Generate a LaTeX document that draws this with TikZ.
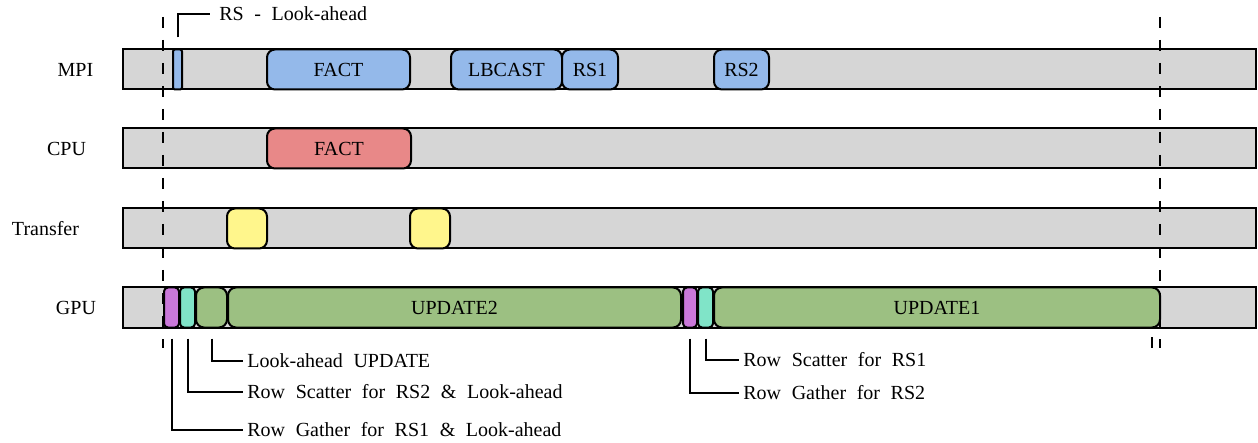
\documentclass[tikz,border=0pt]{standalone}
\usepackage{fontspec}
\setmainfont{Liberation Serif}
\usetikzlibrary{fit}
\definecolor{barg}{RGB}{214,214,214}
\definecolor{cblue}{RGB}{148,185,234}
\definecolor{cred}{RGB}{232,136,136}
\definecolor{cyel}{RGB}{255,246,140}
\definecolor{cgreen}{RGB}{156,192,130}
\definecolor{cpurp}{RGB}{202,120,218}
\definecolor{cteal}{RGB}{128,228,200}
\newcommand{\widesp}{\spaceskip=5.3pt\relax}
\begin{document}
\begin{tikzpicture}[x=0.5pt,y=-0.5pt,
  bar/.style={draw=black, line width=1pt, fill=barg, inner sep=0pt},
  seg/.style={draw=black, line width=1pt, rounded corners=4pt, inner sep=0pt},
  thin seg/.style={seg, rounded corners=2pt},
  lab/.style={inner sep=0pt, font=\fontsize{10}{12}\selectfont},
  txt/.style={label={[lab]center:#1}},
  ann/.style={inner sep=0pt, anchor=west, font=\fontsize{10}{12}\selectfont},
  lead/.style={line width=1pt},
  guide/.style={line width=0.9pt, dash pattern=on 5.5pt off 6pt}]
\useasboundingbox (0,0) rectangle (1258,443);

% bars
\node[bar, fit={(123,49.5) (1256,89.5)}] (mpi) {};
\node[bar, fit={(123,128.5) (1256,168.5)}] (cpu) {};
\node[bar, fit={(123,208.5) (1256,248.5)}] (tr) {};
\node[bar, fit={(123,287.5) (1256,327.5)}] (gpu) {};

% row labels
\node[lab] (lmpi) at (75.5,69.5) {MPI};
\node[lab] (lcpu) at (66.5,148.5) {CPU};
\node[lab] (ltr) at (45.5,228.5) {Transfer};
\node[lab] (lgpu) at (76,307.5) {GPU};

% guides
\coordinate (d1t) at (163,17); \coordinate (d1b) at (163,348);
\coordinate (d2t) at (1160,17); \coordinate (d2b) at (1160,348);
\draw[guide] (d1t) -- (d1b);
\draw[guide] (d2t) -- (d2b);
\coordinate (e1) at (1152,337); \coordinate (e2) at (1152,348);
\draw[lead] (e1) -- (e2);

% MPI
\node[seg, rounded corners=1pt, fill=cblue, fit={(173,49.5) (182,89.5)}] (rsla) {};
\node[seg, fill=cblue, fit={(267,49.5) (410,89.5)}, txt=FACT] (fact1) {};
\node[seg, fill=cblue, fit={(451,49.5) (562,89.5)}, txt=LBCAST] (lbcast) {};
\node[seg, fill=cblue, fit={(562,49.5) (618,89.5)}, txt=RS1] (rs1) {};
\node[seg, fill=cblue, fit={(714,49.5) (769,89.5)}, txt=RS2] (rs2) {};

% CPU
\node[seg, fill=cred, fit={(267,128.5) (411,168.5)}, txt=FACT] (fact2) {};

% Transfer
\node[seg, fill=cyel, fit={(227,208.5) (267,248.5)}] (t1) {};
\node[seg, fill=cyel, fit={(410,208.5) (450,248.5)}] (t2) {};

% GPU
\node[thin seg, fill=cpurp, fit={(164,287.5) (179,327.5)}] (g1) {};
\node[thin seg, fill=cteal, fit={(180,287.5) (195,327.5)}] (s1) {};
\node[seg, fill=cgreen, fit={(196,287.5) (227,327.5)}] (la) {};
\node[seg, fill=cgreen, fit={(228,287.5) (681,327.5)}, txt=UPDATE2] (up2) {};
\node[thin seg, fill=cpurp, fit={(683,287.5) (697,327.5)}] (g2) {};
\node[thin seg, fill=cteal, fit={(698,287.5) (713,327.5)}] (s2) {};
\node[seg, fill=cgreen, fit={(714,287.5) (1160,327.5)}, txt=UPDATE1] (up1) {};

% annotations
\node[ann] (trs) at (219,14) {\widesp RS - Look-ahead};
\draw[lead] ([yshift=5.5pt]rsla.north) |- ([xshift=-4.5pt]trs.west);

\node[ann] (tla) at (247,361) {\widesp Look-ahead UPDATE};
\draw[lead] ([yshift=-5pt]la.south) |- ([xshift=-2pt]tla.west);
\node[ann] (tsc2) at (247,392) {\widesp Row Scatter for RS2 \& Look-ahead};
\draw[lead] ([yshift=-5pt]s1.south) |- ([xshift=-2pt]tsc2.west);
\node[ann] (tga1) at (247,430) {\widesp Row Gather for RS1 \& Look-ahead};
\draw[lead] ([yshift=-5pt]g1.south) |- ([xshift=-2pt]tga1.west);

\node[ann] (tsc1) at (743,360) {\widesp Row Scatter for RS1};
\draw[lead] ([yshift=-5pt]s2.south) |- ([xshift=-2pt]tsc1.west);
\node[ann] (tga2) at (743,393) {\widesp Row Gather for RS2};
\draw[lead] ([yshift=-5pt]g2.south) |- ([xshift=-2pt]tga2.west);
\end{tikzpicture}
\end{document}
